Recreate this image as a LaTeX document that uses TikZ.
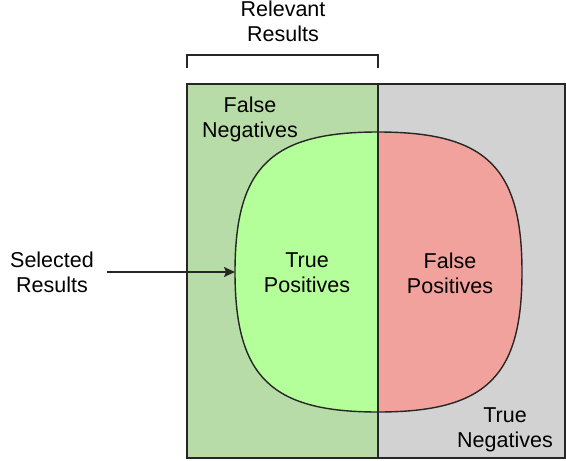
\documentclass[tikz,border=0pt]{standalone}
\usepackage{fontspec}
\setmainfont{Liberation Sans}
\usepackage{tikz}
\usetikzlibrary{arrows.meta}
\definecolor{RelevantGreen}{HTML}{B8DCA8}
\definecolor{SelectedGreen}{HTML}{B4FF9A}
\definecolor{FalseSalmon}{HTML}{F2A29C}
\definecolor{IrrelevantGray}{HTML}{D2D2D2}

\begin{document}
\begin{tikzpicture}[x=0.5pt,y=-0.5pt,
    region/.style={align=center,inner sep=0pt,font=\fontsize{10.75pt}{12.5pt}\selectfont},
    edge/.style={line width=0.7pt,draw=black!85}]
    \useasboundingbox (0,0) rectangle (566,460);

    \coordinate (A) at (187,84);
    \coordinate (B) at (378,84);
    \coordinate (C) at (565,84);
    \coordinate (D) at (565,458);
    \coordinate (E) at (378,458);
    \coordinate (F) at (187,458);

    \coordinate (T) at (378,132);
    \coordinate (W) at (235,272);
    \coordinate (R) at (522,272);
    \coordinate (S) at (378,412);

    \fill[RelevantGreen] (A) rectangle (E);
    \fill[IrrelevantGray] (B) rectangle (D);
    \filldraw[edge,fill=SelectedGreen] (T) .. controls (271,132) and (235,167) .. (W)
        .. controls (235,377) and (271,412) .. (S) -- cycle;
    \filldraw[edge,fill=FalseSalmon] (T) .. controls (486,132) and (522,167) .. (R)
        .. controls (522,377) and (486,412) .. (S) -- cycle;
    \draw[edge] (A) rectangle (D);
    \draw[edge] (B) -- (E);

    % bracket over the relevant side
    \coordinate (BL) at (187,68);
    \coordinate (BR) at (378,68);
    \draw[edge] (BL) -- ++(0,-13) -| (BR);

    \node[region] (relevant) at (283,21) {Relevant\\Results};
    \node[region] (fn) at (250,119) {False\\Negatives};
    \node[region] (tp) at (307,273) {True\\Positives};
    \node[region] (fp) at (450,273) {False\\Positives};
    \node[region] (tn) at (505,430) {True\\Negatives};
    \node[region] (selected) at (52,272) {Selected\\Results};

    \draw[edge,shorten <=6.5pt,-{Stealth[length=5.5pt,width=5pt,inset=1pt]}] (selected.east) -- (W);
\end{tikzpicture}
\end{document}
